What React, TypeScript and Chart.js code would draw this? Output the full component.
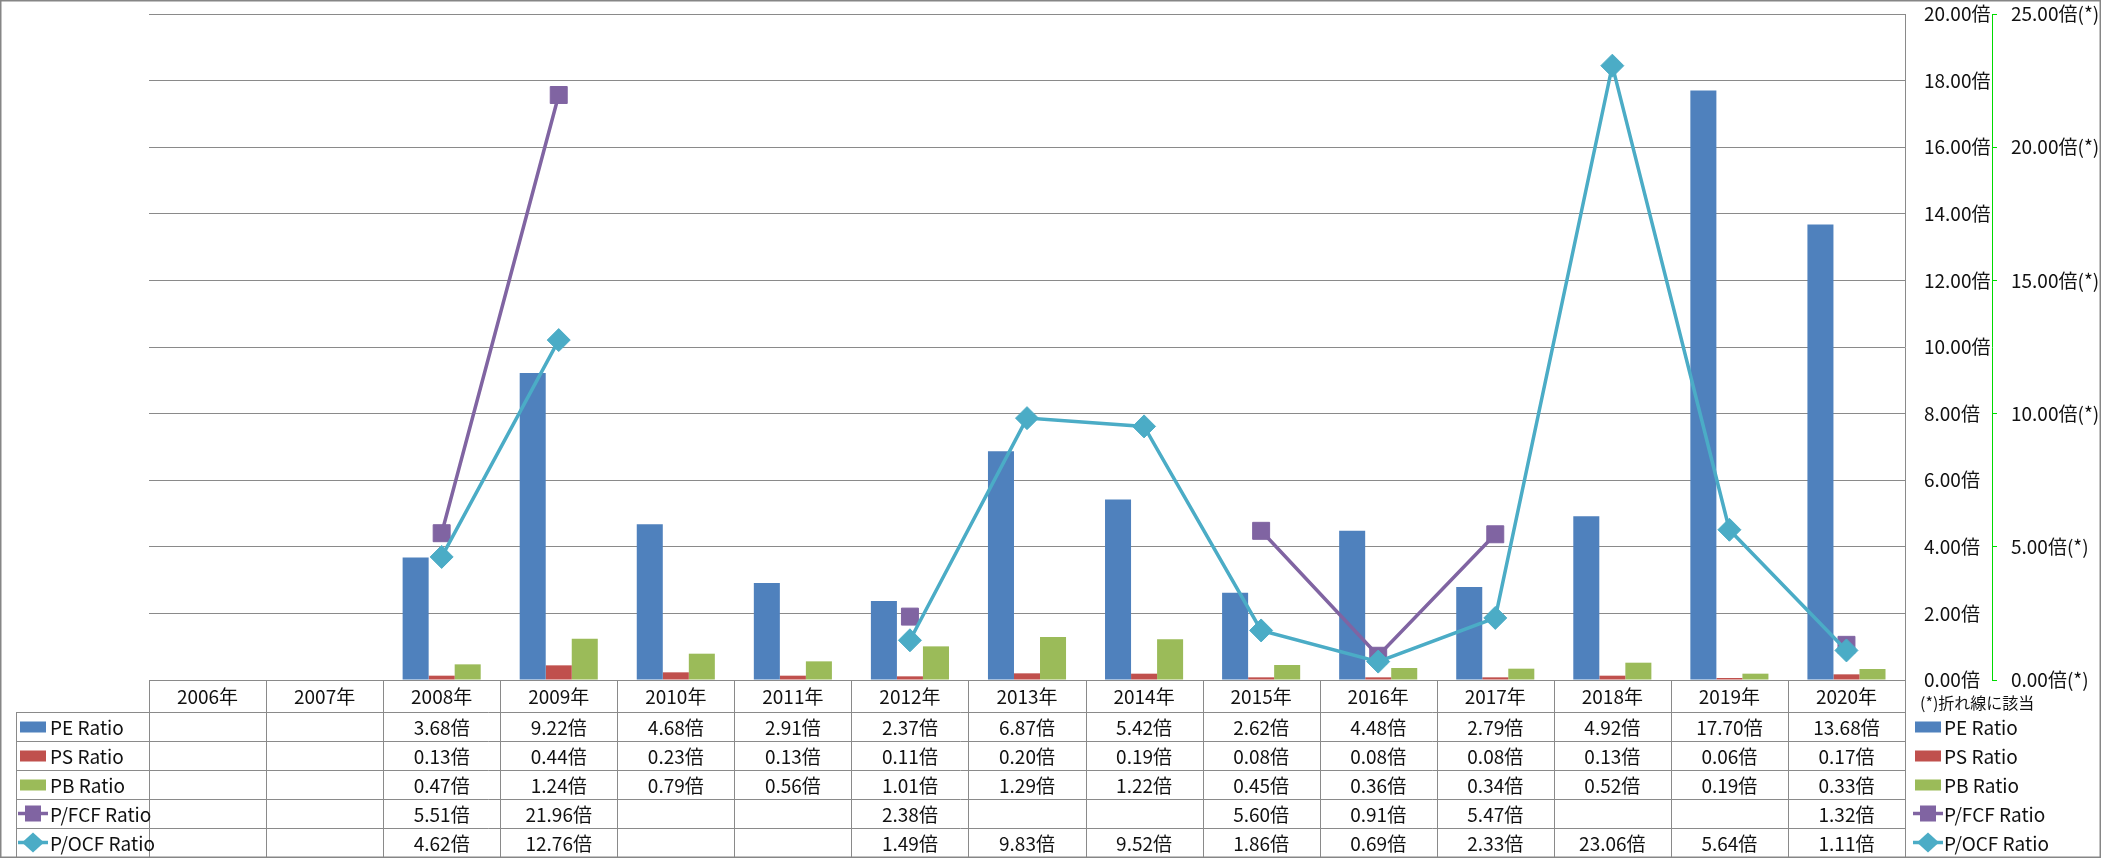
import React, { useEffect, useRef } from 'react';
import { Chart, registerables } from 'chart.js';

Chart.register(...registerables);

// ---- data ----
const categories = ['2006年', '2007年', '2008年', '2009年', '2010年', '2011年', '2012年', '2013年', '2014年', '2015年', '2016年', '2017年', '2018年', '2019年', '2020年'];
const peRatio = [null, null, 3.68, 9.22, 4.68, 2.91, 2.37, 6.87, 5.42, 2.62, 4.48, 2.79, 4.92, 17.70, 13.68];
const psRatio = [null, null, 0.13, 0.44, 0.23, 0.13, 0.11, 0.20, 0.19, 0.08, 0.08, 0.08, 0.13, 0.06, 0.17];
const pbRatio = [null, null, 0.47, 1.24, 0.79, 0.56, 1.01, 1.29, 1.22, 0.45, 0.36, 0.34, 0.52, 0.19, 0.33];
const pfcfRatio = [null, null, 5.51, 21.96, null, null, 2.38, null, null, 5.60, 0.91, 5.47, null, null, 1.32];
const pocfRatio = [null, null, 4.62, 12.76, null, null, 1.49, 9.83, 9.52, 1.86, 0.69, 2.33, 23.06, 5.64, 1.11];
const seriesNames = ['PE Ratio', 'PS Ratio', 'PB Ratio', 'P/FCF Ratio', 'P/OCF Ratio'];
const seriesColors = ['#4F81BD', '#C0504D', '#9BBB59', '#8064A2', '#4BACC6'];
const primaryAxis = { min: 0, max: 20, step: 2, suffix: '倍' };
const secondaryAxis = { min: 0, max: 25, step: 5, suffix: '倍(*)' };
const secondaryNote = '(*)折れ線に該当';

const FONT = '"Noto Sans CJK JP", "Noto Sans", sans-serif';
const TEXT = '#111111';
const GRID = '#8A8A8A';
const GREEN = '#00DC00';

type Kind = 'bar' | 'square' | 'diamond';
const seriesKinds: Kind[] = ['bar', 'bar', 'bar', 'square', 'diamond'];
const seriesValues = [peRatio, psRatio, pbRatio, pfcfRatio, pocfRatio];

function fmt(v: number | null) {
  return v == null ? '' : v.toFixed(2) + '倍';
}

function drawKey(ctx: CanvasRenderingContext2D, kind: Kind, color: string, x: number, cy: number) {
  ctx.save();
  ctx.fillStyle = color;
  ctx.strokeStyle = color;
  if (kind === 'bar') {
    ctx.fillRect(x, cy - 5, 26, 11);
  } else {
    ctx.lineWidth = 3.5;
    ctx.beginPath();
    ctx.moveTo(x - 2, cy);
    ctx.lineTo(x + 28, cy);
    ctx.stroke();
    const cx = x + 13;
    if (kind === 'square') {
      ctx.fillRect(cx - 8, cy - 8, 16, 16);
    } else {
      ctx.beginPath();
      ctx.moveTo(cx - 11, cy);
      ctx.lineTo(cx, cy - 10);
      ctx.lineTo(cx + 11, cy);
      ctx.lineTo(cx, cy + 10);
      ctx.closePath();
      ctx.fill();
    }
  }
  ctx.restore();
}

const tablePlugin = {
  id: 'excelDataTable',
  afterDraw(chart: any) {
    const { ctx, chartArea: a } = chart;
    const xs = chart.scales.x;
    const n = categories.length;
    const cw = (a.right - a.left) / n;
    const top = a.bottom;
    const headerBottom = top + 32;
    const rowH = 29;
    const labelLeft = 16;
    const tableBottom = headerBottom + rowH * seriesNames.length;

    ctx.save();
    ctx.strokeStyle = GRID;
    ctx.lineWidth = 1;
    ctx.beginPath();
    for (let k = 0; k <= n; k++) {
      const x = Math.round(a.left + k * cw) + 0.5;
      ctx.moveTo(x, top);
      ctx.lineTo(x, tableBottom);
    }
    ctx.moveTo(labelLeft + 0.5, headerBottom);
    ctx.lineTo(labelLeft + 0.5, tableBottom);
    for (let r = 0; r < seriesNames.length; r++) {
      const y = Math.round(headerBottom + r * rowH) + 0.5;
      ctx.moveTo(labelLeft, y);
      ctx.lineTo(a.right, y);
    }
    ctx.stroke();

    ctx.fillStyle = TEXT;
    ctx.font = `19px ${FONT}`;
    ctx.textBaseline = 'middle';
    ctx.textAlign = 'center';
    for (let i = 0; i < n; i++) {
      const cx = xs.getPixelForValue(i);
      ctx.fillText(categories[i], cx, (top + headerBottom) / 2 + 1);
    }
    for (let r = 0; r < seriesNames.length; r++) {
      const cy = headerBottom + r * rowH + rowH / 2;
      ctx.textAlign = 'center';
      ctx.fillStyle = TEXT;
      for (let i = 0; i < n; i++) {
        const txt = fmt(seriesValues[r][i] as number | null);
        if (txt) ctx.fillText(txt, xs.getPixelForValue(i), cy + 1);
      }
      drawKey(ctx, seriesKinds[r], seriesColors[r], labelLeft + 4, cy);
      ctx.fillStyle = TEXT;
      ctx.textAlign = 'left';
      ctx.fillText(seriesNames[r], labelLeft + 34, cy + 1);
      drawKey(ctx, seriesKinds[r], seriesColors[r], a.right + 10, cy);
      ctx.fillStyle = TEXT;
      ctx.fillText(seriesNames[r], a.right + 39, cy + 1);
    }
    ctx.font = `16px ${FONT}`;
    ctx.textAlign = 'left';
    ctx.fillText(secondaryNote, a.right + 15, top + 23);

    ctx.strokeStyle = '#868686';
    ctx.lineWidth = 1.5;
    ctx.strokeRect(0.75, 0.75, chart.width - 1.5, chart.height - 1.5);
    ctx.restore();
  },
};

export default function App() {
  const ref = useRef<HTMLCanvasElement>(null);
  useEffect(() => {
    document.body.style.margin = '0';
    document.body.style.overflow = 'hidden';
    const canvas = ref.current!;
    const chart = new Chart(canvas, {
      type: 'bar',
      data: {
        labels: categories,
        datasets: [
          { type: 'line', label: seriesNames[4], data: pocfRatio, yAxisID: 'y1', order: 0,
            borderColor: seriesColors[4], backgroundColor: seriesColors[4], borderWidth: 3.5,
            pointStyle: 'rectRot', pointRadius: 11.5, pointBorderWidth: 1, pointBackgroundColor: seriesColors[4], pointBorderColor: seriesColors[4],
            spanGaps: false, tension: 0 },
          { type: 'line', label: seriesNames[3], data: pfcfRatio, yAxisID: 'y1', order: 1,
            borderColor: seriesColors[3], backgroundColor: seriesColors[3], borderWidth: 3.5,
            pointStyle: 'rect', pointRadius: 12, pointBorderWidth: 1, pointBackgroundColor: seriesColors[3], pointBorderColor: seriesColors[3],
            spanGaps: false, tension: 0 },
          { type: 'bar', label: seriesNames[0], data: peRatio, yAxisID: 'y', order: 2, backgroundColor: seriesColors[0], categoryPercentage: 0.667, barPercentage: 1 },
          { type: 'bar', label: seriesNames[1], data: psRatio, yAxisID: 'y', order: 2, backgroundColor: seriesColors[1], categoryPercentage: 0.667, barPercentage: 1 },
          { type: 'bar', label: seriesNames[2], data: pbRatio, yAxisID: 'y', order: 2, backgroundColor: seriesColors[2], categoryPercentage: 0.667, barPercentage: 1 },
        ] as any,
      },
      options: {
        responsive: false,
        animation: false,
        devicePixelRatio: 1,
        layout: { padding: { left: 149, top: 14, right: 0, bottom: 178 } },
        plugins: { legend: { display: false }, tooltip: { enabled: false }, title: { display: false } },
        scales: {
          x: { type: 'category', display: false, offset: true, grid: { display: false } },
          y: {
            position: 'right', min: primaryAxis.min, max: primaryAxis.max,
            afterFit: (s: any) => { s.width = 87; s.paddingTop = 0; s.paddingBottom = 0; },
            ticks: { stepSize: primaryAxis.step, padding: 19, color: TEXT, font: { family: FONT, size: 19 },
              callback: (v: any) => Number(v).toFixed(2) + primaryAxis.suffix },
            grid: { color: GRID, lineWidth: 1, drawTicks: false },
            border: { display: true, color: GRID, width: 1 },
          },
          y1: {
            position: 'right', min: secondaryAxis.min, max: secondaryAxis.max,
            afterFit: (s: any) => { s.width = 109; s.paddingTop = 0; s.paddingBottom = 0; },
            ticks: { stepSize: secondaryAxis.step, padding: 14, color: TEXT, font: { family: FONT, size: 19 },
              callback: (v: any) => Number(v).toFixed(2) + secondaryAxis.suffix },
            grid: { drawOnChartArea: false, drawTicks: true, tickLength: 5, color: GREEN, lineWidth: 1 },
            border: { display: true, color: GREEN, width: 1, dash: [4, 2] },
          },
        },
      } as any,
      plugins: [tablePlugin],
    });
    return () => chart.destroy();
  }, []);
  return (
    <canvas ref={ref} width={2101} height={858} style={{ display: 'block', width: 2101, height: 858 }} />
  );
}
